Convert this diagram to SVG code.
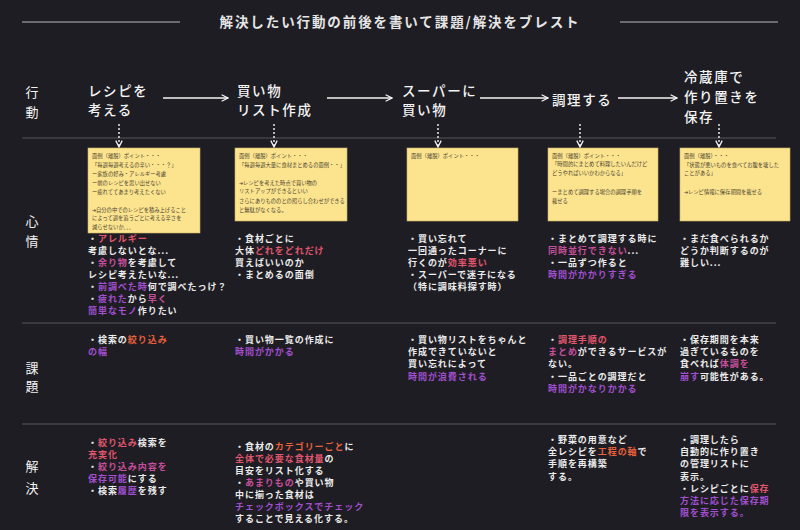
<svg xmlns="http://www.w3.org/2000/svg" width="800" height="530" viewBox="0 0 800 530">
<defs>
<style>
.bg{fill:#1e1d23}
.sep{stroke:#3a3940;stroke-width:2}
.tl{stroke:#6a6a70;stroke-width:2}
text{font-family:"Noto Sans CJK JP","Noto Sans",sans-serif}
.title{fill:#e6e6e6;font-size:13.5px;font-weight:700;letter-spacing:1.9px}
.lbl{fill:#f2f2f2;font-size:13px;text-anchor:middle}
.act{fill:#f4f4f4;font-size:13.5px;font-weight:500;letter-spacing:1.6px}
.note{fill:#fce38e;stroke:#c9b46a;stroke-width:0.6}
.nt{fill:#4a4430;font-size:5.3px}
.t{fill:#ececec;font-size:9px;font-weight:700;letter-spacing:0.95px}
.r{fill:#e8603c}
.p{fill:#e0566e}
.m{fill:#c64f9c}
.v{fill:#a24fd0}
.arr{stroke:#f4f4f4;stroke-width:1.4;fill:none}
.dot{stroke:#f4f4f4;stroke-width:1.4;stroke-dasharray:2 2;fill:none}
</style>
<marker id="ah" viewBox="0 0 10 10" refX="9" refY="5" markerWidth="8" markerHeight="8" markerUnits="userSpaceOnUse" orient="auto">
<path d="M1,1 L9,5 L1,9" fill="none" stroke="#f4f4f4" stroke-width="1.6"/>
</marker>
</defs>
<rect class="bg" x="0" y="0" width="800" height="530"/>

<g id="title">
<line class="tl" x1="22" y1="22" x2="180" y2="22"/>
<line class="tl" x1="620" y1="22" x2="778" y2="22"/>
<text class="title" x="400" y="27" text-anchor="middle">解決したい行動の前後を書いて課題/解決をブレスト</text>
</g>

<g id="separators">
<line class="sep" x1="22" y1="138" x2="776" y2="138"/>
<line class="sep" x1="22" y1="323" x2="776" y2="323"/>
<line class="sep" x1="22" y1="424" x2="776" y2="424"/>
</g>

<g id="row-labels">
<text class="lbl" x="32" y="97">行</text>
<text class="lbl" x="32" y="117">動</text>
<text class="lbl" x="32" y="226">心</text>
<text class="lbl" x="32" y="246">情</text>
<text class="lbl" x="32" y="373">課</text>
<text class="lbl" x="32" y="391">題</text>
<text class="lbl" x="32" y="471">解</text>
<text class="lbl" x="32" y="493">決</text>
</g>

<g id="act1"><text class="act" x="88" y="96">レシピを</text><text class="act" x="88" y="115">考える</text></g>
<g id="act2"><text class="act" x="237" y="96">買い物</text><text class="act" x="237" y="115">リスト作成</text></g>
<g id="act3"><text class="act" x="402" y="96">スーパーに</text><text class="act" x="402" y="115">買い物</text></g>
<g id="act4"><text class="act" x="552" y="105">調理する</text></g>
<g id="act5"><text class="act" x="684" y="82">冷蔵庫で</text><text class="act" x="684" y="102">作り置きを</text><text class="act" x="684" y="122">保存</text></g>

<g id="connectors">
<line class="arr" x1="163" y1="98" x2="228" y2="98" marker-end="url(#ah)"/>
<line class="arr" x1="327" y1="98" x2="392" y2="98" marker-end="url(#ah)"/>
<line class="arr" x1="480" y1="98" x2="548" y2="98" marker-end="url(#ah)"/>
<line class="arr" x1="618" y1="98" x2="677" y2="98" marker-end="url(#ah)"/>
<line class="dot" x1="119" y1="124" x2="119" y2="147" marker-end="url(#ah)"/>
<line class="dot" x1="274" y1="124" x2="274" y2="147" marker-end="url(#ah)"/>
<line class="dot" x1="438" y1="124" x2="438" y2="147" marker-end="url(#ah)"/>
<line class="dot" x1="580" y1="124" x2="580" y2="147" marker-end="url(#ah)"/>
<line class="dot" x1="719" y1="124" x2="719" y2="147" marker-end="url(#ah)"/>
</g>

<g id="note1">
<rect class="note" x="88" y="148" width="112" height="85"/>
<text class="nt" x="92" y="158">面倒（離脱）ポイント・・・</text>
<text class="nt" x="92" y="167">「毎週毎週考えるの辛い・・・？」</text>
<text class="nt" x="92" y="176">ー家族の好み・アレルギー考慮</text>
<text class="nt" x="92" y="185">ー前のレシピを思い出せない</text>
<text class="nt" x="92" y="194">ー疲れててあまり考えたくない</text>
<text class="nt" x="92" y="212">➔自分の中でのレシピを積み上げること</text>
<text class="nt" x="92" y="220">によって週を追うごとに考える辛さを</text>
<text class="nt" x="92" y="229">減らせないか、、、</text>
</g>
<g id="note2">
<rect class="note" x="235" y="148" width="112" height="73"/>
<text class="nt" x="239" y="158">面倒（離脱）ポイント・・・</text>
<text class="nt" x="239" y="167">「毎週毎週大量に食材まとめるの面倒・・」</text>
<text class="nt" x="239" y="185">➔レシピを考えた時点で買い物の</text>
<text class="nt" x="239" y="193">リストアップができるといい</text>
<text class="nt" x="239" y="203">さらにありもののとの照らし合わせができる</text>
<text class="nt" x="239" y="212">と無駄がなくなる。</text>
</g>
<g id="note3">
<rect class="note" x="407" y="148" width="111" height="73"/>
<text class="nt" x="411" y="158">面倒（離脱）ポイント・・・</text>
</g>
<g id="note4">
<rect class="note" x="548" y="148" width="110" height="73"/>
<text class="nt" x="552" y="158">面倒（離脱）ポイント・・・</text>
<text class="nt" x="552" y="166">「時間的にまとめて料理したいんだけど</text>
<text class="nt" x="552" y="175">どうやればいいかわからなる」</text>
<text class="nt" x="552" y="194">ーまとめて調理する場合の調理手順を</text>
<text class="nt" x="552" y="203">載せる</text>
</g>
<g id="note5">
<rect class="note" x="680" y="148" width="110" height="73"/>
<text class="nt" x="684" y="158">面倒（離脱）・・・</text>
<text class="nt" x="684" y="167">「状態が悪いものを食べてお腹を壊した</text>
<text class="nt" x="684" y="175">ことがある」</text>
<text class="nt" x="684" y="194">➔レシピ情報に保存期間を載せる</text>
</g>

<g id="feel1">
<text class="t" x="88" y="242">・<tspan class="p">アレルギー</tspan></text>
<text class="t" x="88" y="254">考慮しないとな...</text>
<text class="t" x="88" y="266">・<tspan class="m">余り物</tspan>を考慮して</text>
<text class="t" x="88" y="278">レシピ考えたいな...</text>
<text class="t" x="88" y="290">・<tspan class="v">前調べた時</tspan>何で調べたっけ？</text>
<text class="t" x="88" y="302">・<tspan class="v">疲れた</tspan>から<tspan class="m">早く</tspan></text>
<text class="t" x="88" y="314"><tspan class="v">簡単なモノ</tspan>作りたい</text>
</g>
<g id="feel2">
<text class="t" x="235" y="242">・食材ごとに</text>
<text class="t" x="235" y="254">大体<tspan class="p">どれをどれだけ</tspan></text>
<text class="t" x="235" y="266">買えばいいのか</text>
<text class="t" x="235" y="278">・まとめるの面倒</text>
</g>
<g id="feel3">
<text class="t" x="408" y="242">・買い忘れて</text>
<text class="t" x="408" y="254">一回通ったコーナーに</text>
<text class="t" x="408" y="266">行くのが<tspan class="p">効率悪い</tspan></text>
<text class="t" x="408" y="278">・スーパーで迷子になる</text>
<text class="t" x="408" y="290">（特に調味料探す時）</text>
</g>
<g id="feel4">
<text class="t" x="548" y="242">・まとめて調理する時に</text>
<text class="t" x="548" y="254"><tspan class="m">同時並行できない</tspan>...</text>
<text class="t" x="548" y="266">・一品ずつ作ると</text>
<text class="t" x="548" y="278"><tspan class="v">時間がかかりすぎる</tspan></text>
</g>
<g id="feel5">
<text class="t" x="680" y="242">・まだ食べられるか</text>
<text class="t" x="680" y="254">どうか判断するのが</text>
<text class="t" x="680" y="266">難しい...</text>
</g>

<g id="issue1">
<text class="t" x="88" y="343">・検索の<tspan class="r">絞り込み</tspan></text>
<text class="t" x="88" y="355"><tspan class="v">の幅</tspan></text>
</g>
<g id="issue2">
<text class="t" x="235" y="343">・買い物一覧の作成に</text>
<text class="t" x="235" y="355"><tspan class="v">時間がかかる</tspan></text>
</g>
<g id="issue3">
<text class="t" x="408" y="343">・買い物リストをちゃんと</text>
<text class="t" x="408" y="355">作成できていないと</text>
<text class="t" x="408" y="367">買い忘れによって</text>
<text class="t" x="408" y="380"><tspan class="v">時間が浪費される</tspan></text>
</g>
<g id="issue4">
<text class="t" x="548" y="343">・<tspan class="p">調理手順の</tspan></text>
<text class="t" x="548" y="355"><tspan class="m">まとめ</tspan>ができるサービスが</text>
<text class="t" x="548" y="367">ない。</text>
<text class="t" x="548" y="380">・一品ごとの調理だと</text>
<text class="t" x="548" y="392"><tspan class="v">時間がかなりかかる</tspan></text>
</g>
<g id="issue5">
<text class="t" x="680" y="343">・保存期間を本来</text>
<text class="t" x="680" y="355">過ぎているものを</text>
<text class="t" x="680" y="367">食べれば<tspan class="m">体調を</tspan></text>
<text class="t" x="680" y="380"><tspan class="v">崩す</tspan>可能性がある。</text>
</g>

<g id="solve1">
<text class="t" x="88" y="446">・<tspan class="p">絞り込み</tspan>検索を</text>
<text class="t" x="88" y="458"><tspan class="p">充実化</tspan></text>
<text class="t" x="88" y="470">・<tspan class="m">絞り込み内容を</tspan></text>
<text class="t" x="88" y="482"><tspan class="v">保存可能</tspan>にする</text>
<text class="t" x="88" y="494">・検索<tspan class="v">履歴</tspan>を残す</text>
</g>
<g id="solve2">
<text class="t" x="235" y="450">・食材の<tspan class="r">カテゴリーごと</tspan>に</text>
<text class="t" x="235" y="462"><tspan class="p">全体で必要な食材量</tspan>の</text>
<text class="t" x="235" y="474">目安をリスト化する</text>
<text class="t" x="235" y="486">・<tspan class="m">あまりもの</tspan>や買い物</text>
<text class="t" x="235" y="498">中に揃った食材は</text>
<text class="t" x="235" y="510"><tspan class="v">チェックボックスでチェック</tspan></text>
<text class="t" x="235" y="522">することで見える化する。</text>
</g>
<g id="solve4">
<text class="t" x="548" y="443">・野菜の用意など</text>
<text class="t" x="548" y="455">全レシピを<tspan class="r">工程の軸</tspan>で</text>
<text class="t" x="548" y="467">手順を再構築</text>
<text class="t" x="548" y="480">する。</text>
</g>
<g id="solve5">
<text class="t" x="680" y="443">・調理したら</text>
<text class="t" x="680" y="455">自動的に作り置き</text>
<text class="t" x="680" y="467">の管理リストに</text>
<text class="t" x="680" y="480">表示。</text>
<text class="t" x="680" y="492">・レシピごとに<tspan class="p">保存</tspan></text>
<text class="t" x="680" y="504"><tspan class="v">方法に応じた保存期</tspan></text>
<text class="t" x="680" y="516"><tspan class="v">限を表示する。</tspan></text>
</g>
</svg>
